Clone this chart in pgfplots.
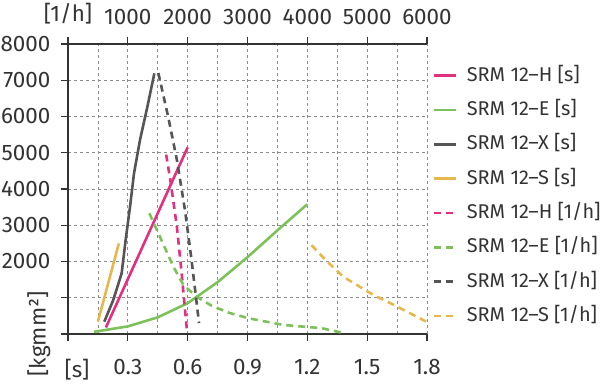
\documentclass[border=0pt]{standalone}
\usepackage{fontspec}
\setmainfont{Fira Sans}
\usepackage{graphicx}
\usepackage{pgfplots}
\pgfplotsset{compat=1.18}
\definecolor{cH}{HTML}{E2307E}
\definecolor{cE}{HTML}{7DC15A}
\definecolor{cX}{HTML}{555558}
\definecolor{cS}{HTML}{E6B84C}
\definecolor{txt}{HTML}{333333}
\definecolor{gridc}{HTML}{8C8C8C}
\pgfplotsset{
  base/.style={
    scale only axis, width=359bp, height=290bp, at={(0,0)}, anchor=south west,
    ymin=0, ymax=8000,
    tick align=outside, major tick length=7bp, minor tick length=0bp,
    tick style={line width=1.3bp, color=txt},
    axis line style={line width=1.5bp, color=txt, -},
    ticklabel style={font=\fontsize{22.5}{26}\selectfont, text=txt},
    /pgf/number format/assume math mode=true,
    scaled x ticks=false, scaled y ticks=false,
  },
  sol/.style={line width=2.6bp},
  dsh/.style={line width=2.6bp, dash pattern=on 7bp off 5bp},
}
\begin{document}
\fontsize{22}{26}\selectfont
\begin{tikzpicture}[x=1bp,y=1bp]
\useasboundingbox (-68,-50) rectangle (532,334);
\begin{axis}[base,
  xmin=0, xmax=1.8,
  axis x line*=bottom, axis y line*=left,
  xtick={0,0.3,0.6,0.9,1.2,1.5,1.8},
  xticklabels={\hspace*{18bp}[s],0.3,0.6,0.9,1.2,1.5,1.8},
  xticklabel style={yshift=-11bp},
  yticklabel style={xshift=-3bp},
  minor xtick={0.15,0.45,0.75,1.05,1.35,1.65},
  ytick={0,1000,2000,3000,4000,5000,6000,7000,8000},
  yticklabels={\rotatebox{90}{[kgmm²]},,2000,3000,4000,5000,6000,7000,8000},
  xmajorgrids, xminorgrids, ymajorgrids,
  grid style={gridc, line width=0.7bp, dash pattern=on 3bp off 3bp},
  minor grid style={gridc, line width=0.7bp, dash pattern=on 3bp off 3bp},
]
\addplot[sol, cX] coordinates {(0.182,340) (0.227,938) (0.269,1674) (0.289,2593) (0.311,3512) (0.331,4433) (0.361,5352) (0.398,6270) (0.433,7190)};
\addplot[sol, cH] coordinates {(0.19,180) (0.60,5150)};
\addplot[sol, cE] coordinates {(0.13,60) (0.3,210) (0.45,460) (0.6,850) (0.75,1430) (0.9,2120) (1.05,2860) (1.2,3580)};
\addplot[sol, cS] coordinates {(0.15,340) (0.255,2500)};
\end{axis}
\begin{axis}[base,
  xmin=0, xmax=6000,
  axis x line*=top, axis y line=none,
  xtick={0,1000,2000,3000,4000,5000,6000},
  xticklabels={[1/h],1000,2000,3000,4000,5000,6000},
  xticklabel style={yshift=5bp},
  legend image code/.code={\draw[#1] (0bp,0bp) -- (22bp,0bp);},
  legend cell align=left,
  legend style={draw=none, fill=none, at={(axis description cs:1,1)}, anchor=north west,
    xshift=5bp, yshift=-22bp, inner sep=0pt, row sep=15.3bp, column sep=10bp,
    font=\fontsize{20}{24}\selectfont, text=txt,
    nodes={inner sep=0pt, text height=15bp, text depth=4bp}},
]
\addlegendimage{sol, cH}\addlegendentry{SRM 12–H [s]}
\addlegendimage{sol, cE}\addlegendentry{SRM 12–E [s]}
\addlegendimage{sol, cX}\addlegendentry{SRM 12–X [s]}
\addlegendimage{sol, cS}\addlegendentry{SRM 12–S [s]}
\addplot[dsh, cH] coordinates {(1640,4950) (1710,4250) (1820,2960) (1900,1670) (1985,150)};
\addlegendentry{SRM 12–H [1/h]}
\addplot[dsh, cE] coordinates {(1360,3330) (1510,2780) (1760,1860) (1930,1350) (2150,1030) (2400,780) (2700,580) (3030,430) (3600,250) (4240,160) (4570,40)};
\addlegendentry{SRM 12–E [1/h]}
\addplot[dsh, cX] coordinates {(1510,7200) (1680,5950) (1820,4800) (1955,3420) (2065,2040) (2190,300)};
\addlegendentry{SRM 12–X [1/h]}
\addplot[dsh, cS] coordinates {(4070,2450) (4300,2050) (4600,1580) (5100,1080) (5450,800) (6000,330)};
\addlegendentry{SRM 12–S [1/h]}
\end{axis}
\end{tikzpicture}
\end{document}
